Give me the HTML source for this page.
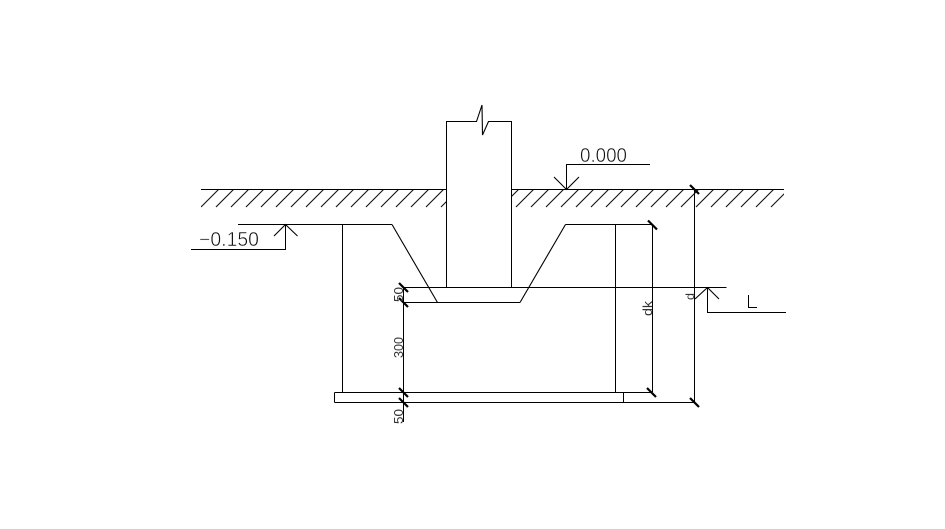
<!DOCTYPE html>
<html><head><meta charset="utf-8"><style>
html,body{margin:0;padding:0;background:#fff;width:945px;height:529px;overflow:hidden}
svg{display:block}
text{font-family:"Liberation Sans",sans-serif;fill:#111}
text.b{stroke:#fff;stroke-width:.5px}
text.s{fill:#333}
</style></head><body>
<svg width="945" height="529" viewBox="0 0 945 529" xmlns="http://www.w3.org/2000/svg">
<defs><clipPath id="h"><path d="M201 189H446V208H201ZM512 189H784V208H512Z"/></clipPath></defs>
<g fill="none" stroke="#000" stroke-width="1">
<path clip-path="url(#h)" stroke="#111" stroke-width="1.1" d="M201 207l18-18M216 207l18-18M231 207l18-18M246 207l18-18M261 207l18-18M276 207l18-18M291 207l18-18M306 207l18-18M321 207l18-18M336 207l18-18M351 207l18-18M366 207l18-18M381 207l18-18M396 207l18-18M411 207l18-18M426 207l18-18M441 207l18-18M501 207l18-18M516 207l18-18M531 207l18-18M546 207l18-18M561 207l18-18M576 207l18-18M591 207l18-18M606 207l18-18M621 207l18-18M636 207l18-18M651 207l18-18M666 207l18-18M681 207l18-18M696 207l18-18M711 207l18-18M726 207l18-18M741 207l18-18M756 207l18-18M771 207l18-18"/>
<g shape-rendering="crispEdges">
<path d="M201 189.500H446M511 189.500H784"/>
<path d="M446.500 287V121.500H477M488 121.500H511.500V287"/>
<path d="M566.500 189V164.500H650"/>
<path d="M191 249.500H285.500V224.500"/>
<path d="M238 224.500H392M565.500 224.500H652"/>
<path d="M342.500 224.500V392"/>
<path d="M615.500 224.500V392"/>
<path d="M652.500 224.500V392"/>
<path d="M694.500 189V402"/>
<path d="M403 287.500H726.500"/>
<path d="M403 302.500H520"/>
<path d="M403.500 287V422"/>
<path d="M334.500 392.500H652M334.500 402.500H694M334.500 392.500V402.500M623.500 392.500V402.500"/>
<path d="M707.500 287.500V312.500H786"/>
<path d="M748.500 295V307.500H757"/>
</g>
<path d="M476.500 121.500L482 105L482.500 135L488.500 121.500" stroke-width="1.1"/>
<path d="M554 177L566.500 189.500L579 177" stroke-width="1.1"/>
<path d="M274 236L285.500 224.500L297.500 236" stroke-width="1.1"/>
<path d="M392 224.500L437.500 302.500" stroke-width="1.1"/>
<path d="M520 302.500L565.500 224.500" stroke-width="1.1"/>
<path d="M695 299L707.500 287.500L719 299" stroke-width="1.1"/>
<g stroke-width="2.200">
<path d="M690 185L699 194M648 220.500L657 229.500M399 283L408 292M399 298L408 307M399 388L408 397M399 398L408 407M647 388L656 397M690 398L699 407"/>
</g>
</g>
<text class="b" x="580" y="162" font-size="20" textLength="47" lengthAdjust="spacingAndGlyphs">0.000</text>
<text class="b" x="199" y="246" font-size="20" textLength="60" lengthAdjust="spacingAndGlyphs">−0.150</text>
<text class="s" transform="translate(403,302) rotate(-90)" font-size="13" textLength="15" lengthAdjust="spacingAndGlyphs">50</text>
<text class="s" transform="translate(403,358) rotate(-90)" font-size="13" textLength="21" lengthAdjust="spacingAndGlyphs">300</text>
<text class="s" transform="translate(403,424) rotate(-90)" font-size="13" textLength="15" lengthAdjust="spacingAndGlyphs">50</text>
<text class="s" transform="translate(652,316) rotate(-90)" font-size="13" textLength="15" lengthAdjust="spacingAndGlyphs">dk</text>
<text class="s" transform="translate(694,300) rotate(-90)" font-size="12" textLength="7" lengthAdjust="spacingAndGlyphs">d</text>
</svg>
</body></html>
